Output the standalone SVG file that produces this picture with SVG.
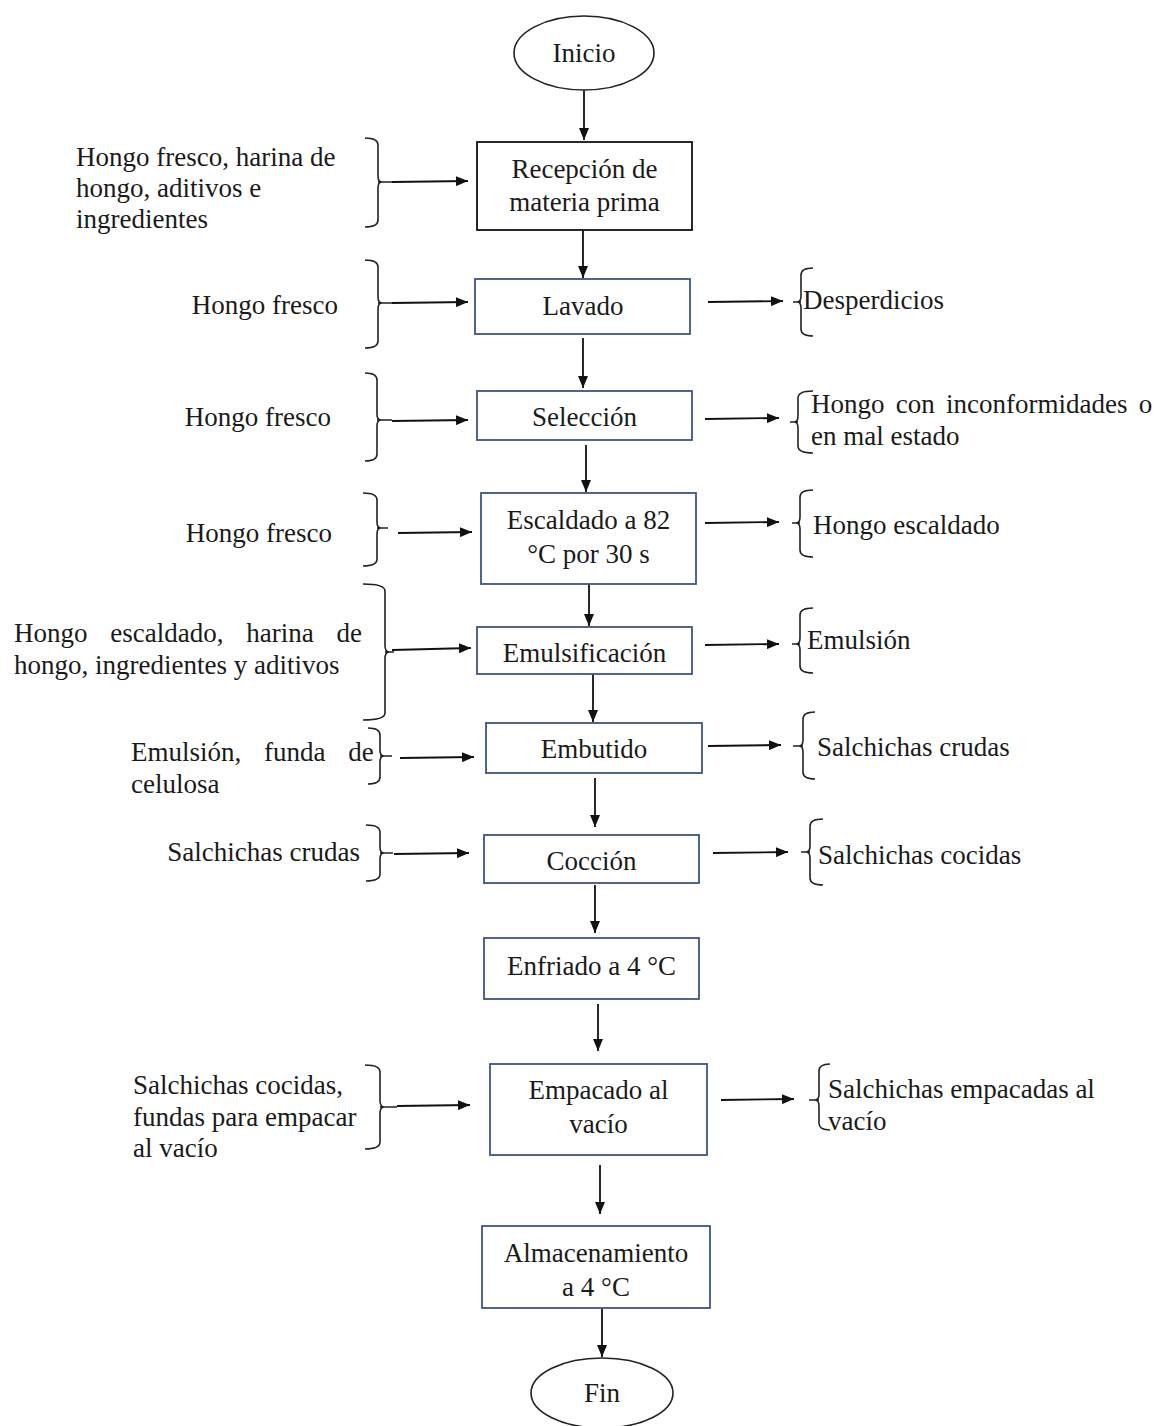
<svg xmlns="http://www.w3.org/2000/svg" width="1158" height="1426" viewBox="0 0 1158 1426">
<style>
text{font-family:"Liberation Serif","Times New Roman",serif;font-size:27px;fill:#1a1a1a}
.c{text-anchor:middle}
.e{text-anchor:end}
.box{fill:#fff;stroke:#3b5683;stroke-width:1.8}
.boxk{fill:#fff;stroke:#111;stroke-width:1.8}
.ell{fill:#fff;stroke:#222;stroke-width:1.6}
.ln{fill:none;stroke:#111;stroke-width:1.8}
.br{fill:none;stroke:#222;stroke-width:1.6}
</style>
<defs>
<marker id="ah" viewBox="0 0 12 10" refX="12" refY="5" markerWidth="12" markerHeight="10" markerUnits="userSpaceOnUse" orient="auto"><path d="M0,0 L12,5 L0,10 z" fill="#111"/></marker>
</defs>
<rect width="1158" height="1426" fill="#fff"/>

<g id="connectors">
<!-- main flow -->
<line class="ln" x1="584" y1="90" x2="584" y2="140" marker-end="url(#ah)"/>
<line class="ln" x1="583" y1="230" x2="583" y2="278" marker-end="url(#ah)"/>
<line class="ln" x1="583" y1="338" x2="583" y2="388" marker-end="url(#ah)"/>
<line class="ln" x1="586" y1="445" x2="586" y2="492" marker-end="url(#ah)"/>
<line class="ln" x1="589" y1="584" x2="589" y2="626" marker-end="url(#ah)"/>
<line class="ln" x1="593" y1="674" x2="593" y2="722" marker-end="url(#ah)"/>
<line class="ln" x1="595" y1="778" x2="595" y2="827" marker-end="url(#ah)"/>
<line class="ln" x1="595" y1="885" x2="595" y2="933" marker-end="url(#ah)"/>
<line class="ln" x1="598" y1="1004" x2="598" y2="1051" marker-end="url(#ah)"/>
<line class="ln" x1="600" y1="1165" x2="600" y2="1214" marker-end="url(#ah)"/>
<line class="ln" x1="602" y1="1308" x2="602" y2="1357" marker-end="url(#ah)"/>
<!-- inputs -->
<line class="ln" x1="392" y1="182" x2="468" y2="181" marker-end="url(#ah)"/>
<line class="ln" x1="392" y1="303" x2="468" y2="302" marker-end="url(#ah)"/>
<line class="ln" x1="392" y1="421" x2="468" y2="420" marker-end="url(#ah)"/>
<line class="ln" x1="398" y1="533" x2="472" y2="532" marker-end="url(#ah)"/>
<line class="ln" x1="392" y1="650" x2="471" y2="648" marker-end="url(#ah)"/>
<line class="ln" x1="400" y1="758" x2="474" y2="757" marker-end="url(#ah)"/>
<line class="ln" x1="394" y1="854" x2="469" y2="853" marker-end="url(#ah)"/>
<line class="ln" x1="397" y1="1106" x2="470" y2="1105" marker-end="url(#ah)"/>
<!-- outputs -->
<line class="ln" x1="708" y1="302" x2="783" y2="301" marker-end="url(#ah)"/>
<line class="ln" x1="705" y1="419" x2="779" y2="418" marker-end="url(#ah)"/>
<line class="ln" x1="705" y1="523" x2="779" y2="522" marker-end="url(#ah)"/>
<line class="ln" x1="705" y1="645" x2="779" y2="644" marker-end="url(#ah)"/>
<line class="ln" x1="708" y1="746" x2="781" y2="745" marker-end="url(#ah)"/>
<line class="ln" x1="713" y1="853" x2="788" y2="852" marker-end="url(#ah)"/>
<line class="ln" x1="721" y1="1100" x2="794" y2="1099" marker-end="url(#ah)"/>
</g>

<g id="brackets">
<!-- left braces } -->
<path class="br" d="M365 138 Q378 138 378 145 L378 176 Q378 182 382 182 Q378 182 378 188 L378 220 Q378 227 365 227 M378 182 H392"/>
<path class="br" d="M365 260 Q378 260 378 267 L378 297 Q378 303 382 303 Q378 303 378 309 L378 341 Q378 348 365 348 M378 303 H392"/>
<path class="br" d="M365 373 Q377 373 377 380 L377 414 Q377 420 381 420 Q377 420 377 426 L377 454 Q377 461 365 461 M377 420 H392"/>
<path class="br" d="M363 493 Q377 493 377 500 L377 522 Q377 528 381 528 Q377 528 377 534 L377 559 Q377 566 363 566 M377 528 H388"/>
<path class="br" d="M363 584 Q385 584 385 591 L385 645 Q385 652 389 652 Q385 652 385 659 L385 713 Q385 720 363 720 M385 652 H394"/>
<path class="br" d="M368 728 Q380 728 380 735 L380 750 Q380 756 384 756 Q380 756 380 762 L380 777 Q380 784 368 784 M380 756 H392"/>
<path class="br" d="M366 825 Q380 825 380 832 L380 847 Q380 853 384 853 Q380 853 380 859 L380 874 Q380 881 366 881 M380 853 H393"/>
<path class="br" d="M365 1065 Q380 1065 380 1072 L380 1100 Q380 1107 384 1107 Q380 1107 380 1114 L380 1142 Q380 1149 365 1149 M380 1107 H397"/>
<!-- right braces { -->
<path class="br" d="M813 268 Q801 268 801 275 L801 296 Q801 302 797 302 Q801 302 801 308 L801 329 Q801 336 813 336 M793 302 H801"/>
<path class="br" d="M813 391 Q798 391 798 398 L798 416 Q798 422 794 422 Q798 422 798 428 L798 446 Q798 453 813 453 M790 422 H798"/>
<path class="br" d="M813 490 Q800 490 800 497 L800 517 Q800 523 796 523 Q800 523 800 529 L800 550 Q800 557 813 557 M792 523 H800"/>
<path class="br" d="M813 608 Q800 608 800 615 L800 638 Q800 644 796 644 Q800 644 800 650 L800 666 Q800 673 813 673 M792 644 H800"/>
<path class="br" d="M815 712 Q803 712 803 719 L803 740 Q803 746 799 746 Q803 746 803 752 L803 772 Q803 779 815 779 M793 746 H803"/>
<path class="br" d="M823 819 Q810 819 810 826 L810 846 Q810 852 806 852 Q810 852 810 858 L810 878 Q810 885 823 885 M801 852 H810"/>
<path class="br" d="M830 1064 Q819 1064 819 1071 L819 1094 Q819 1100 815 1100 Q819 1100 819 1106 L819 1123 Q819 1130 830 1130 M809 1100 H819"/>
</g>

<g id="n-inicio"><ellipse class="ell" cx="584" cy="53" rx="70" ry="37"/><text class="c" x="584" y="62">Inicio</text></g>
<g id="n-recepcion"><rect class="boxk" x="477" y="142" width="215" height="88"/><text class="c" x="584.5" y="178">Recepción de</text><text class="c" x="584.5" y="211">materia prima</text></g>
<g id="n-lavado"><rect class="box" x="475" y="279" width="215" height="55"/><text class="c" x="583" y="315">Lavado</text></g>
<g id="n-seleccion"><rect class="box" x="477" y="391" width="215" height="49"/><text class="c" x="584.5" y="426">Selección</text></g>
<g id="n-escaldado"><rect class="box" x="481" y="493" width="215" height="91"/><text class="c" x="588.5" y="529">Escaldado a 82</text><text class="c" x="588.5" y="563">°C por 30 s</text></g>
<g id="n-emulsificacion"><rect class="box" x="477" y="627" width="215" height="47"/><text class="c" x="584.5" y="662">Emulsificación</text></g>
<g id="n-embutido"><rect class="box" x="486" y="723" width="216" height="50"/><text class="c" x="594" y="758">Embutido</text></g>
<g id="n-coccion"><rect class="box" x="484" y="835" width="215" height="48"/><text class="c" x="591.5" y="870">Cocción</text></g>
<g id="n-enfriado"><rect class="box" x="484" y="938" width="215" height="61"/><text class="c" x="591.5" y="975">Enfriado a 4 °C</text></g>
<g id="n-empacado"><rect class="box" x="490" y="1064" width="217" height="91"/><text class="c" x="598.5" y="1099">Empacado al</text><text class="c" x="598.5" y="1133">vacío</text></g>
<g id="n-almacenamiento"><rect class="box" x="482" y="1226" width="228" height="82"/><text class="c" x="596" y="1262">Almacenamiento</text><text class="c" x="596" y="1296">a 4 °C</text></g>
<g id="n-fin"><ellipse class="ell" cx="602" cy="1393" rx="71" ry="35"/><text class="c" x="602" y="1402">Fin</text></g>

<g id="inputs">
<text x="76" y="166">Hongo fresco, harina de</text>
<text x="76" y="197">hongo, aditivos e</text>
<text x="76" y="228">ingredientes</text>
<text class="e" x="338" y="314">Hongo fresco</text>
<text class="e" x="331" y="426">Hongo fresco</text>
<text class="e" x="332" y="542">Hongo fresco</text>
<text x="14" y="642" word-spacing="16">Hongo escaldado, harina de</text>
<text x="14" y="674">hongo, ingredientes y aditivos</text>
<text x="131" y="761" word-spacing="16">Emulsión, funda de</text>
<text x="131" y="793">celulosa</text>
<text class="e" x="360" y="861">Salchichas crudas</text>
<text x="133" y="1094">Salchichas cocidas,</text>
<text x="133" y="1126">fundas para empacar</text>
<text x="133" y="1157">al vacío</text>
</g>

<g id="outputs">
<text x="803" y="309">Desperdicios</text>
<text x="811" y="413" word-spacing="4.5">Hongo con inconformidades o</text>
<text x="811" y="445">en mal estado</text>
<text x="813" y="534">Hongo escaldado</text>
<text x="807" y="649">Emulsión</text>
<text x="817" y="756">Salchichas crudas</text>
<text x="818" y="864">Salchichas cocidas</text>
<text x="828" y="1098">Salchichas empacadas al</text>
<text x="828" y="1130">vacío</text>
</g>
</svg>
